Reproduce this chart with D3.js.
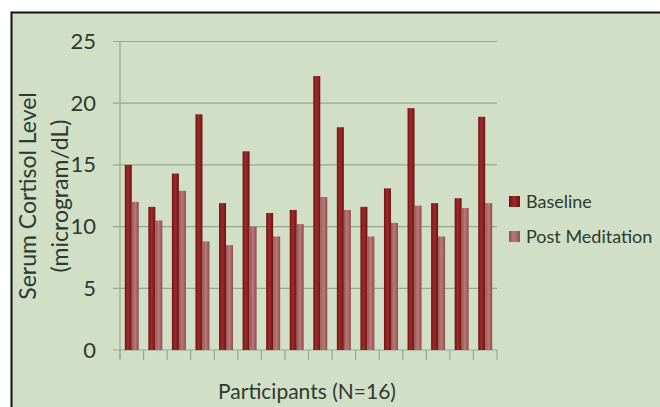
<!DOCTYPE html>
<html><head><meta charset="utf-8">
<script src="https://cdn.jsdelivr.net/npm/d3@7"></script>
<style>html,body{margin:0;padding:0;background:#fff;}svg{display:block;}</style>
</head><body>
<script>
const participants = d3.range(1, 17).map(String);
const baseline = [15.0, 11.6, 14.3, 19.1, 11.9, 16.1, 11.1, 11.35, 22.2, 18.05, 11.6, 13.1, 19.6, 11.9, 12.3, 18.9];
const postMeditation = [12.0, 10.5, 12.9, 8.8, 8.5, 10.0, 9.2, 10.2, 12.4, 11.35, 9.2, 10.3, 11.7, 9.2, 11.5, 11.9];
const yTicks = [0, 5, 10, 15, 20, 25];
const seriesNames = ["Baseline", "Post Meditation"];

const W = 660, H = 407;
const font = "Lato, 'Open Sans', sans-serif";
const svg = d3.select("body").append("svg").attr("width", W).attr("height", H);

const defs = svg.append("defs");
function grad(id, stops) {
  const g = defs.append("linearGradient").attr("id", id).attr("x1", "0").attr("x2", "1").attr("y1", "0").attr("y2", "0");
  stops.forEach(s => g.append("stop").attr("offset", s[0]).attr("stop-color", s[1]));
}
grad("gB", [[0, "#6e1414"], [0.45, "#a12a2a"], [1, "#6a1515"]]);
grad("gP", [[0, "#955555"], [0.45, "#bf7777"], [1, "#8c5050"]]);

// background panel
svg.append("rect").attr("x", 11).attr("y", 12).attr("width", W).attr("height", H).attr("fill", "#d0dfc6");
svg.append("path").attr("d", `M11.5,${H} L11.5,12.5 L${W},12.5`).attr("fill", "none").attr("stroke", "#111").attr("stroke-width", 2);

const m = {l: 120, r: 497, t: 41.5, b: 350};
const x = d3.scaleBand().domain(participants).range([m.l, m.r]);
const y = d3.scaleLinear().domain([0, 25]).range([m.b, m.t]);
const bw = 7;

// gridlines
svg.append("g").selectAll("line").data(yTicks).join("line")
  .attr("x1", m.l - 7).attr("x2", m.r).attr("y1", d => y(d)).attr("y2", d => y(d))
  .attr("stroke", "#98a88f").attr("stroke-width", 1.2);

// y axis line
svg.append("line").attr("x1", m.l).attr("x2", m.l).attr("y1", m.t).attr("y2", m.b + 8)
  .attr("stroke", "#98a88f").attr("stroke-width", 1.2);

// x ticks
const xTickPos = participants.map(p => x(p)).concat([m.r]);
svg.append("g").selectAll("line").data(xTickPos).join("line")
  .attr("x1", d => d).attr("x2", d => d).attr("y1", m.b).attr("y2", m.b + 10)
  .attr("stroke", "#98a88f").attr("stroke-width", 1.2);

// tick labels
svg.append("g").selectAll("text").data(yTicks).join("text")
  .attr("x", 96).attr("y", d => y(d) + 7.5).attr("text-anchor", "end")
  .attr("font-family", font).attr("font-size", 22).attr("fill", "#2e3a2e").text(d => d);

// bars
const g = svg.append("g");
participants.forEach((p, i) => {
  const cx = x(p) + x.bandwidth() / 2;
  g.append("rect").attr("x", cx - bw).attr("width", bw).attr("y", y(baseline[i])).attr("height", y(0) - y(baseline[i])).attr("fill", "url(#gB)");
  g.append("rect").attr("x", cx).attr("width", bw).attr("y", y(postMeditation[i])).attr("height", y(0) - y(postMeditation[i])).attr("fill", "url(#gP)");
});

// axis titles
svg.append("text").attr("transform", "translate(36,196) rotate(-90)").attr("text-anchor", "middle")
  .attr("font-family", font).attr("font-size", 23).attr("fill", "#2e3a2e").text("Serum Cortisol Level");
svg.append("text").attr("transform", "translate(68,196) rotate(-90)").attr("text-anchor", "middle")
  .attr("font-family", font).attr("font-size", 23).attr("fill", "#2e3a2e").text("(microgram/dL)");
svg.append("text").attr("x", 307).attr("y", 399).attr("text-anchor", "middle")
  .attr("font-family", font).attr("font-size", 21).attr("fill", "#2e3a2e").text("Participants (N=16)");

// legend
const leg = svg.append("g");
const fills = ["url(#gB)", "url(#gP)"];
seriesNames.forEach((n, i) => {
  const ly = 196 + i * 35;
  leg.append("rect").attr("x", 509).attr("y", ly).attr("width", 11).attr("height", 11).attr("fill", fills[i]);
  leg.append("text").attr("x", 526).attr("y", ly + 11.5).attr("font-family", font).attr("font-size", 18)
    .attr("fill", "#2e3a2e").text(n);
});
</script>
</body></html>
